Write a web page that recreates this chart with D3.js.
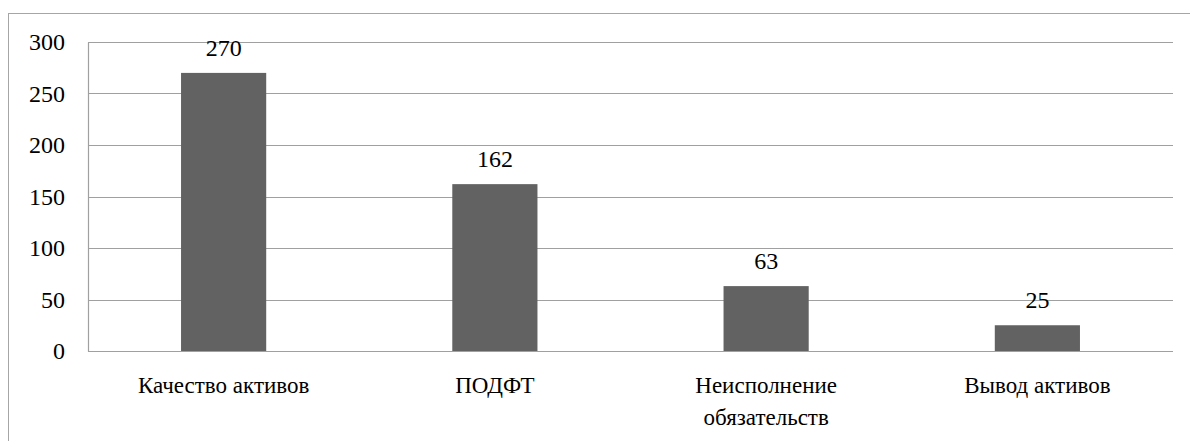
<!DOCTYPE html>
<html>
<head>
<meta charset="utf-8">
<script src="https://cdn.jsdelivr.net/npm/d3@7"></script>
</head>
<body style="margin:0">
<svg id="chart" width="1190" height="441"></svg>
<script>
// Number of cases by category
const categories = [["Качество активов"], ["ПОДФТ"], ["Неисполнение", "обязательств"], ["Вывод активов"]];
const values = [270, 162, 63, 25];
const yTicks = [0, 50, 100, 150, 200, 250, 300];

const FONT = '"Liberation Serif", Tinos, serif';
const svg = d3.select("#chart");
const W = 1190, H = 441;
const m = { left: 88, right: 17, top: 42, bottom: 90 };
const plotW = W - m.left - m.right;
const plotH = H - m.top - m.bottom;

// outer chart frame (extends past the right and bottom edges)
svg.append("rect")
  .attr("x", 8.5).attr("y", 13.5)
  .attr("width", W + 10).attr("height", H + 10)
  .attr("fill", "none").attr("stroke", "#a6a6a6").attr("stroke-width", 1);

const g = svg.append("g").attr("transform", `translate(${m.left},${m.top})`);

const x = d3.scaleBand().domain(d3.range(categories.length)).range([0, plotW]).paddingInner(0.686).paddingOuter(0.343);
const y = d3.scaleLinear().domain([0, 300]).range([plotH, 0]);

// horizontal gridlines
g.append("g").selectAll("line").data(yTicks).join("line")
  .attr("x1", 0).attr("x2", plotW)
  .attr("y1", d => Math.round(y(d)) + 0.5).attr("y2", d => Math.round(y(d)) + 0.5)
  .attr("stroke", "#a0a0a0").attr("stroke-width", 1.2);

// vertical axis line
g.append("line")
  .attr("x1", 0.5).attr("x2", 0.5)
  .attr("y1", Math.round(y(300)) + 0.5).attr("y2", Math.round(y(0)) + 0.5)
  .attr("stroke", "#a0a0a0").attr("stroke-width", 1.2);

// y tick labels
g.append("g").selectAll("text").data(yTicks).join("text")
  .style("font-family", FONT, "important")
  .attr("x", -23).attr("y", d => y(d))
  .attr("dy", "0.35em")
  .attr("text-anchor", "end")
  .attr("font-size", 24).attr("fill", "#000")
  .text(d => d);

// bars
g.append("g").selectAll("rect").data(values).join("rect")
  .attr("x", (d, i) => x(i)).attr("width", x.bandwidth())
  .attr("y", d => y(d)).attr("height", d => y(0) - y(d))
  .attr("fill", "#626262");

// value labels
g.append("g").selectAll("text").data(values).join("text")
  .style("font-family", FONT, "important")
  .attr("x", (d, i) => x(i) + x.bandwidth() / 2)
  .attr("y", d => y(d) - 17)
  .attr("text-anchor", "middle")
  .attr("font-size", 24).attr("fill", "#000")
  .text(d => d);

// category labels
const cat = g.append("g").selectAll("text").data(categories).join("text")
  .style("font-family", FONT, "important")
  .attr("text-anchor", "middle")
  .attr("font-size", 23).attr("fill", "#000")
  .attr("transform", (d, i) => `translate(${x(i) + x.bandwidth() / 2},${plotH + 42})`);
cat.selectAll("tspan").data(d => d).join("tspan")
  .style("font-family", FONT, "important")
  .attr("x", 0).attr("dy", (d, j) => j === 0 ? 0 : 32)
  .text(d => d);
</script>
</body>
</html>
